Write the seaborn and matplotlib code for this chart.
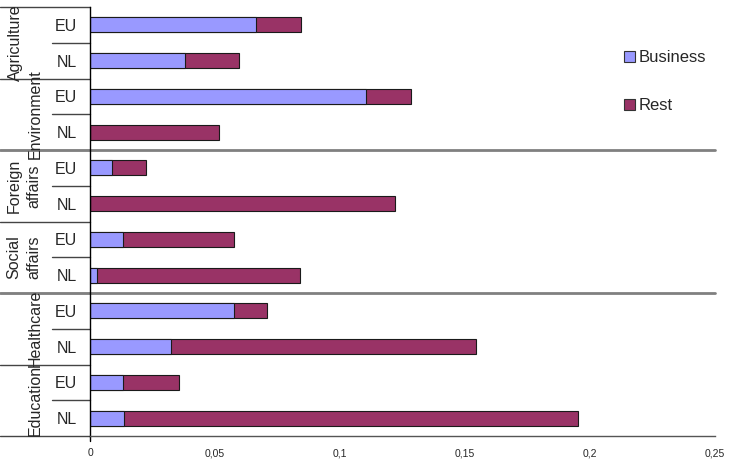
import numpy as np
import pandas as pd
import seaborn as sns
import matplotlib.pyplot as plt
from matplotlib.patches import Patch
from matplotlib.transforms import blended_transform_factory

# data, top to bottom
groups = ["Agriculture", "Environment", "Foreign\naffairs", "Social\naffairs", "Healthcare", "Education"]
subs = ["EU", "NL"]
business = [0.0664, 0.0380, 0.1104, 0.0, 0.0089, 0.0, 0.0133, 0.0028, 0.0577, 0.0325, 0.0133, 0.0137]
rest = [0.0179, 0.0216, 0.0180, 0.0516, 0.0134, 0.1220, 0.0444, 0.0813, 0.0132, 0.1220, 0.0223, 0.1815]
x_ticks = [0, 0.05, 0.1, 0.15, 0.2, 0.25]

BUSINESS_COLOR = "#9999FF"
REST_COLOR = "#993366"
EDGE = "#1a1a1a"

rows = [f"{g} {s}" for g in groups for s in subs]
df = pd.DataFrame(
    {
        "row": rows,
        "sub": [s for g in groups for s in subs],
        "business": business,
        "rest": rest,
    }
)
df["total"] = df["business"] + df["rest"]

sns.set_style("white")
plt.rcParams["font.family"] = ["Liberation Sans", "DejaVu Sans"]

fig = plt.figure(figsize=(7.32, 4.62), dpi=100)
W, H = 732, 462
ax = fig.add_axes([90 / W, 1 - 436 / H, 625 / W, 429 / H])

# stacked bars: full length in Rest colour, business drawn over it
sns.barplot(data=df, x="total", y="row", color=REST_COLOR, saturation=1,
            width=0.42, edgecolor=EDGE, linewidth=0.8, ax=ax)
sns.barplot(data=df, x="business", y="row", color=BUSINESS_COLOR, saturation=1,
            width=0.42, edgecolor=EDGE, linewidth=0.8, ax=ax)

ax.set_xlim(0, 0.25)
ax.set_ylim(len(rows) - 0.5, -0.5)
ax.set_xlabel("")
ax.set_ylabel("")

# x axis
ax.set_xticks(x_ticks)
ax.set_xticklabels([f"{v:g}".replace(".", ",") for v in x_ticks], fontsize=7.5)
ax.tick_params(axis="x", direction="out", length=5, width=1, color="#555555", pad=4)

# y axis: sub labels, no ticks
ax.set_yticks(range(len(rows)))
ax.set_yticklabels(df["sub"], fontsize=11.5)
ax.tick_params(axis="y", length=0, pad=9)

for side in ["top", "right"]:
    ax.spines[side].set_visible(False)
ax.spines["left"].set_color("black")
ax.spines["left"].set_linewidth(1)
ax.spines["bottom"].set_color("#555555")
ax.spines["bottom"].set_linewidth(1)

# category frame lines (Excel-style multi-level axis)
tr = blended_transform_factory(ax.transAxes, ax.transData)
x_out = -90 / 625
x_sub = -38 / 625
for i in range(len(groups) + 1):
    y = 2 * i - 0.5
    ax.plot([x_out, 0], [y, y], color="#444444", lw=1, transform=tr, clip_on=False)
for i in range(len(groups)):
    y = 2 * i + 0.5
    ax.plot([x_sub, 0], [y, y], color="#444444", lw=1, transform=tr, clip_on=False)
for y in [3.5, 7.5]:
    ax.plot([x_out, 1.0], [y, y], color="#808080", lw=2, transform=tr, clip_on=False)
ax.plot([0, 0], [len(rows) - 0.5, len(rows) - 0.36], color="black", lw=1,
        transform=tr, clip_on=False)

# group labels
group_x = {"Agriculture": 15, "Foreign\naffairs": 24, "Social\naffairs": 24}
for i, g in enumerate(groups):
    xp = group_x.get(g, 35)
    ax.text((xp - 90) / 625, 2 * i + 0.5, g, transform=tr, rotation=90,
            ha="center", va="center", multialignment="center",
            fontsize=11.5, linespacing=1.4)

# legend
handles = [
    Patch(facecolor=BUSINESS_COLOR, edgecolor="#333333", linewidth=0.8),
    Patch(facecolor=REST_COLOR, edgecolor="#333333", linewidth=0.8),
]
fig.legend(handles, ["Business", "Rest"], loc="upper left",
           bbox_to_anchor=(609 / W, 1 - 35 / H), frameon=False, fontsize=12,
           handlelength=0.65, handleheight=0.65, handletextpad=0.2, labelspacing=2.0)

fig.savefig("out.png", dpi=100)
